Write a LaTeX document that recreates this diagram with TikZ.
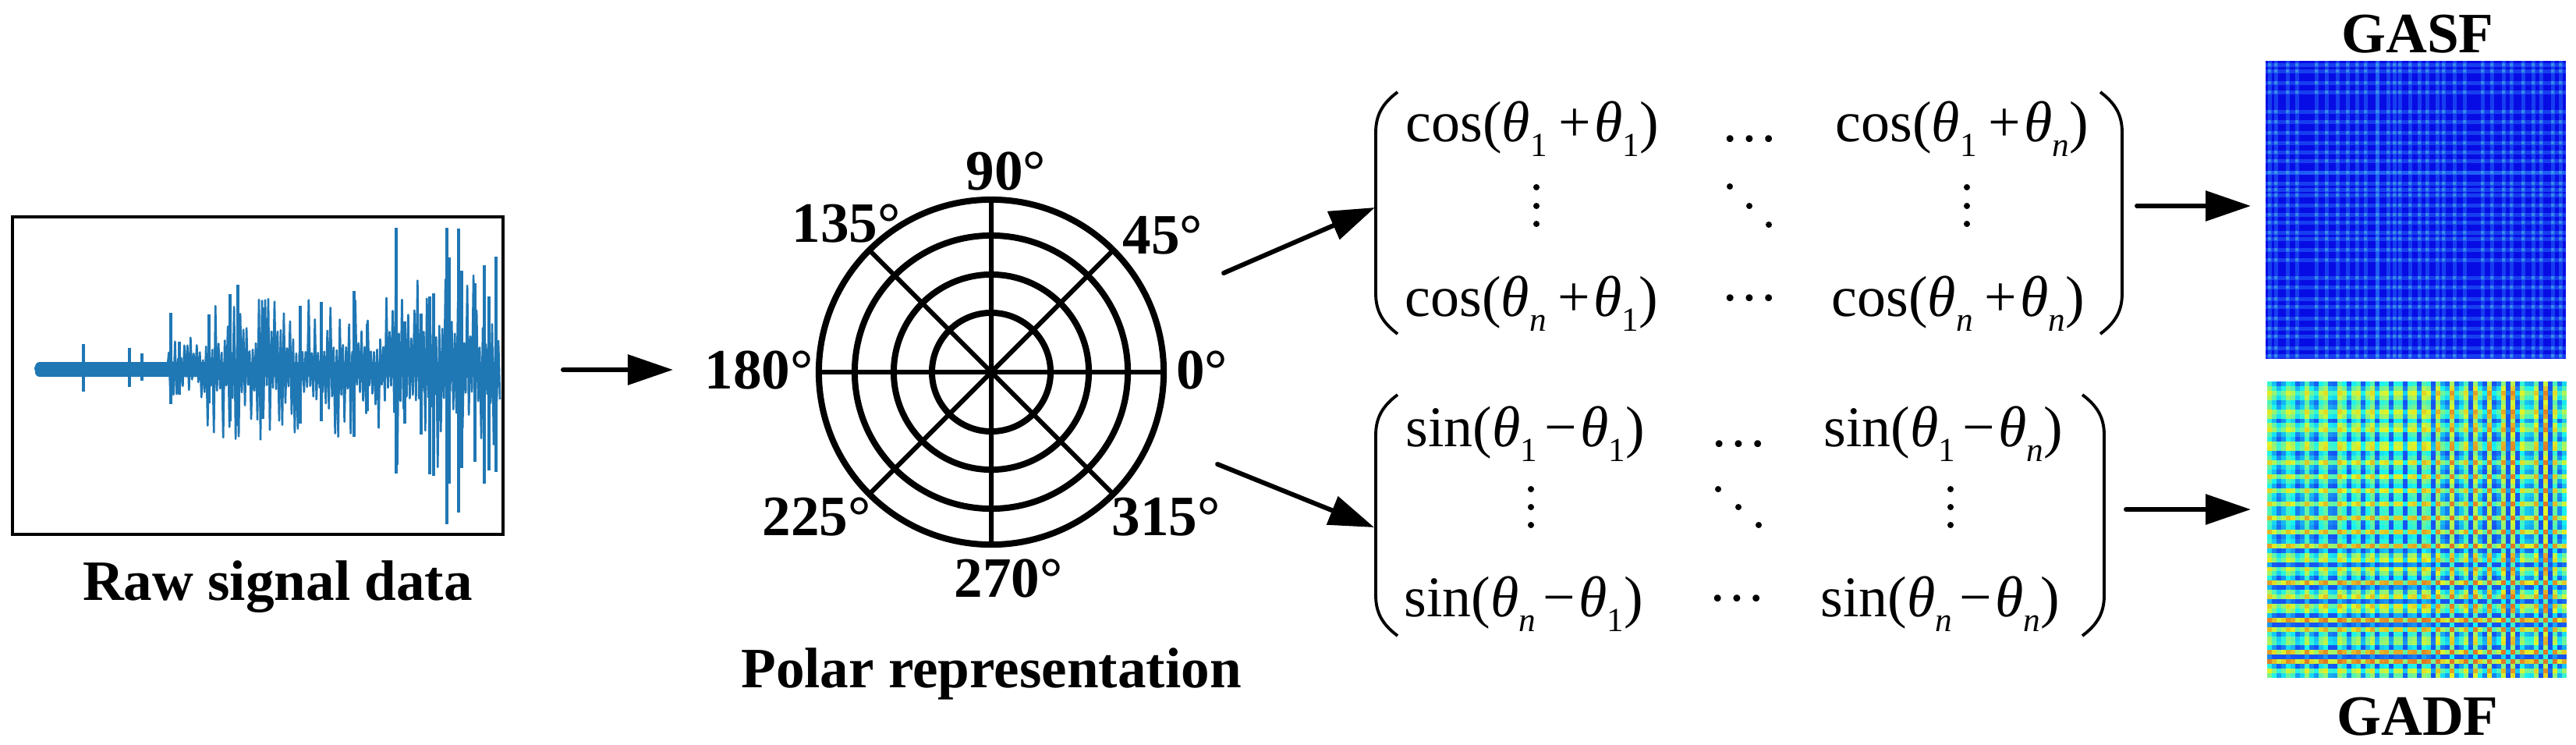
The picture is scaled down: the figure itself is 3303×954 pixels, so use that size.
\documentclass[tikz,border=0pt]{standalone}
\usepackage{fontspec}
\setmainfont{Liberation Serif}
\usepackage{graphicx}
\usetikzlibrary{arrows.meta}
\definecolor{sig}{RGB}{31,119,180}
\definecolor{gasfbase}{RGB}{8,12,228}
\definecolor{gasfline}{RGB}{40,125,255}
\definecolor{gasfspot}{RGB}{95,205,210}
\definecolor{gadfsoft}{RGB}{110,200,190}
\newcommand\mth{\textit{θ}}
\newcommand\msub[1]{\raisebox{-0.26em}{\fontsize{12.3pt}{14pt}\selectfont #1}}
\newcommand\pl{\hspace{0.2em}+\hspace{0.06em}}
\newcommand\mi{\hspace{0.12em}−\hspace{0.06em}}
\begin{document}
\begin{tikzpicture}[x=0.01cm,y=-0.01cm,
  lbl/.style={font=\fontsize{20.8pt}{25pt}\selectfont\bfseries, inner sep=0pt},
  ent/.style={font=\fontsize{21pt}{25pt}\selectfont, inner sep=0pt, anchor=base west},
  arr/.style={line width=1.7pt, line cap=round, -{Triangle[length=0.58cm,width=0.38cm]}},
  paren/.style={line width=1.1pt},
  thick ring/.style={line width=2.28pt},
  spoke/.style={line width=1.7pt},
  declare function={
    env(\t)=6+(\t>=215)*30+(\t>=262)*44+(\t>=505)*30;
    jr(\t)=max(0,min(1,1.5-abs(4*\t-3)));
    jg(\t)=max(0,min(1,1.5-abs(4*\t-2)));
    jb(\t)=max(0,min(1,1.5-abs(4*\t-1)));
  }]
\useasboundingbox (0,0) rectangle (3303,954);

% ---------- raw signal ----------
\node[draw, line width=1.14pt, inner sep=0, outer sep=0, minimum width=6.29cm, minimum height=4.07cm] (raw) at (330.5,481.5) {};
\fill[sig, rounded corners=0.06cm] (45,464) rectangle (641,483);
\pgfmathsetseed{12}
\draw[sig, line width=0.75pt, line join=round] plot[variable=\t, domain=45:641, samples=300]
  (\t, {473 + (2*mod(round((\t-45)/1.9933),2)-1)*env(\t)*(0.25+0.9*pow(rnd,2))});
\foreach \sx/\st/\sb in {107/441/502,166/446/496,182/453/488,219/401/518,230/438/506,268/403/517,
  295/377/540,305/365/546,337/394/537,385/392/543,412/387/540,454/373/560,471/415/527,
  508/292/607,519/412/543,540/402/557,551/380/608,556/376/610,573/292/672,576/330/620,
  588/293/657,592/347/600,609/363/592,621/340/620,627/380/603,636/329/605}
  \draw[sig, line width=1.3pt] (\sx,\st) -- (\sx,\sb);
\node[lbl, anchor=base] (rawlbl) at (356,769) {Raw signal data};

% ---------- polar ----------
\node[circle, draw, thick ring, minimum size=4.42cm, inner sep=0, outer sep=0] (polar) at (1271,477) {};
\foreach \r in {1.75,1.25,0.76}
  \draw[thick ring] (polar.center) circle[radius=\r cm];
\draw[spoke] (polar.north) -- (polar.south) (polar.west) -- (polar.east)
  (polar.45) -- (polar.225) (polar.135) -- (polar.315);
\node[lbl] (d90) at (1290,220) {90°};
\node[lbl] (d135) at (1085,287) {135°};
\node[lbl] (d45) at (1491,302) {45°};
\node[lbl] (d180) at (973,475) {180°};
\node[lbl] (d0) at (1541,475) {0°};
\node[lbl] (d225) at (1047,663) {225°};
\node[lbl] (d315) at (1495,663) {315°};
\node[lbl] (d270) at (1293,742) {270°};
\node[lbl, anchor=base] (plbl) at (1271,881) {Polar representation};

% ---------- matrix 1 (GASF) ----------
\draw[paren] (1792,118) .. controls (1772,133) and (1764,148) .. (1764,170) -- (1764,376) .. controls (1764,398) and (1772,413) .. (1792,428);
\draw[paren] (2693,118) .. controls (2713,133) and (2721,148) .. (2721,170) -- (2721,376) .. controls (2721,398) and (2713,413) .. (2693,428);
\node[ent] (a11) at (1802,181) {cos(\mth\msub{1}\pl\mth\msub{1})};
\node[ent, anchor=base] (a12) at (2243,181) {…};
\node[ent] (a13) at (2353,181) {cos(\mth\msub{1}\pl\mth\msub{\textit{n}})};
\node[ent] (a31) at (1801,405) {cos(\mth\msub{\textit{n}}\pl\mth\msub{1})};
\node[ent, anchor=base] (a32) at (2243,405) {\raisebox{0.27em}{…}};
\node[ent] (a33) at (2348,405) {cos(\mth\msub{\textit{n}}\pl\mth\msub{\textit{n}})};
\foreach \dy in {240,264,287} {
  \fill (1970,\dy) circle[radius=0.04cm];
  \fill (2522,\dy) circle[radius=0.04cm];
}
\fill (2218,239) circle[radius=0.04cm] (2243,264) circle[radius=0.04cm] (2268,288) circle[radius=0.04cm];

% ---------- matrix 2 (GADF) ----------
\draw[paren] (1792,506) .. controls (1772,521) and (1764,536) .. (1764,558) -- (1764,763) .. controls (1764,785) and (1772,800) .. (1792,815);
\draw[paren] (2670,506) .. controls (2690,521) and (2698,536) .. (2698,558) -- (2698,763) .. controls (2698,785) and (2690,800) .. (2670,815);
\node[ent] (b11) at (1802,572) {sin(\mth\msub{1}\mi\mth\msub{1})};
\node[ent, anchor=base] (b12) at (2229,572) {…};
\node[ent] (b13) at (2338,572) {sin(\mth\msub{1}\mi\mth\msub{\textit{n}})};
\node[ent] (b31) at (1800,790) {sin(\mth\msub{\textit{n}}\mi\mth\msub{1})};
\node[ent, anchor=base] (b32) at (2227,790) {\raisebox{0.27em}{…}};
\node[ent] (b33) at (2334,790) {sin(\mth\msub{\textit{n}}\mi\mth\msub{\textit{n}})};
\foreach \dy in {627,650,673} {
  \fill (1963,\dy) circle[radius=0.04cm];
  \fill (2501,\dy) circle[radius=0.04cm];
}
\fill (2203,627) circle[radius=0.04cm] (2229,650) circle[radius=0.04cm] (2255,673) circle[radius=0.04cm];

% ---------- GASF image ----------
\node[inner sep=0, outer sep=0, minimum width=3.85cm, minimum height=3.82cm, fill=gasfbase] (gasf) at (3097.5,269) {};
\def\gasfpos{5,13,28,40,65,78,92,105,117,128,143,157,165,172,185,197,207,220,228,242,255,278,290,305,315,330,343,353,368,378}
\foreach \p in \gasfpos {
  \fill[gasfline, opacity=0.45] ({2905+\p-2.5},78) rectangle ({2905+\p+2.5},460);
  \fill[gasfline, opacity=0.45] (2905,{78+\p-2.5}) rectangle (3290,{78+\p+2.5});
}
\fill[gasfline, opacity=0.5] ({2905+143-2.5},78) rectangle ({2905+143+2.5},460);
\fill[gasfline, opacity=0.5] (2905,{78+143-2.5}) rectangle (3290,{78+143+2.5});
\foreach \p in \gasfpos {
  \foreach \q in \gasfpos {
    \fill[gasfspot, opacity=0.45] ({2905+\p},{78+\q}) circle[radius=0.022cm];
  }
}

% ---------- GADF image ----------
\pgfmathsetseed{5}
\gdef\gphase{0}
\foreach \k in {0,...,63}{
  \pgfmathsetmacro\amp{0.3+0.45*\k/63}
  \pgfmathsetmacro\xv{\amp*cos(\gphase)*(0.75+0.25*rnd)}
  \pgfmathsetmacro\yv{sqrt(1-(\xv)*(\xv))}
  \expandafter\xdef\csname gx\k\endcsname{\xv}
  \expandafter\xdef\csname gy\k\endcsname{\yv}
  \pgfmathsetmacro\np{\gphase+90+70*\k/63+20*rand}
  \xdef\gphase{\np}
}
\foreach \i in {0,...,63}{
  \foreach \j in {0,...,63}{
    \pgfmathsetmacro\sv{(\csname gy\i\endcsname)*(\csname gx\j\endcsname)-(\csname gx\i\endcsname)*(\csname gy\j\endcsname)}
    \pgfmathsetmacro\tv{max(0.18,min(0.78,0.42+0.42*\sv))}
    \pgfmathsetmacro\rv{jr(\tv)}\pgfmathsetmacro\gv{jg(\tv)}\pgfmathsetmacro\bv{jb(\tv)}
    \definecolor{cc}{rgb}{\rv,\gv,\bv}
    \fill[cc] ({2907+\j*6},{489+\i*5.9375}) rectangle +(6.4,6.3);
  }
}
\node[inner sep=0, outer sep=0, minimum width=3.84cm, minimum height=3.80cm, fill=gadfsoft, fill opacity=0.2] (gadf) at (3099,679) {};
\node[lbl, anchor=base] (gasflbl) at (3100,67) {GASF};
\node[lbl, anchor=base] (gadflbl) at (3100,942) {GADF};

% ---------- arrows ----------
\coordinate (s1) at (722,474); \coordinate (t1) at (863,474);
\coordinate (s2) at (1569,350); \coordinate (t2) at (1763,266);
\coordinate (s3) at (1561,595); \coordinate (t3) at (1762,676);
\coordinate (s4) at (2740,264); \coordinate (t4) at (2886,264);
\coordinate (s5) at (2726,653); \coordinate (t5) at (2886,653);
\draw[arr] (s1) -- (t1);
\draw[arr] (s2) -- (t2);
\draw[arr] (s3) -- (t3);
\draw[arr] (s4) -- (t4);
\draw[arr] (s5) -- (t5);
\end{tikzpicture}
\end{document}
